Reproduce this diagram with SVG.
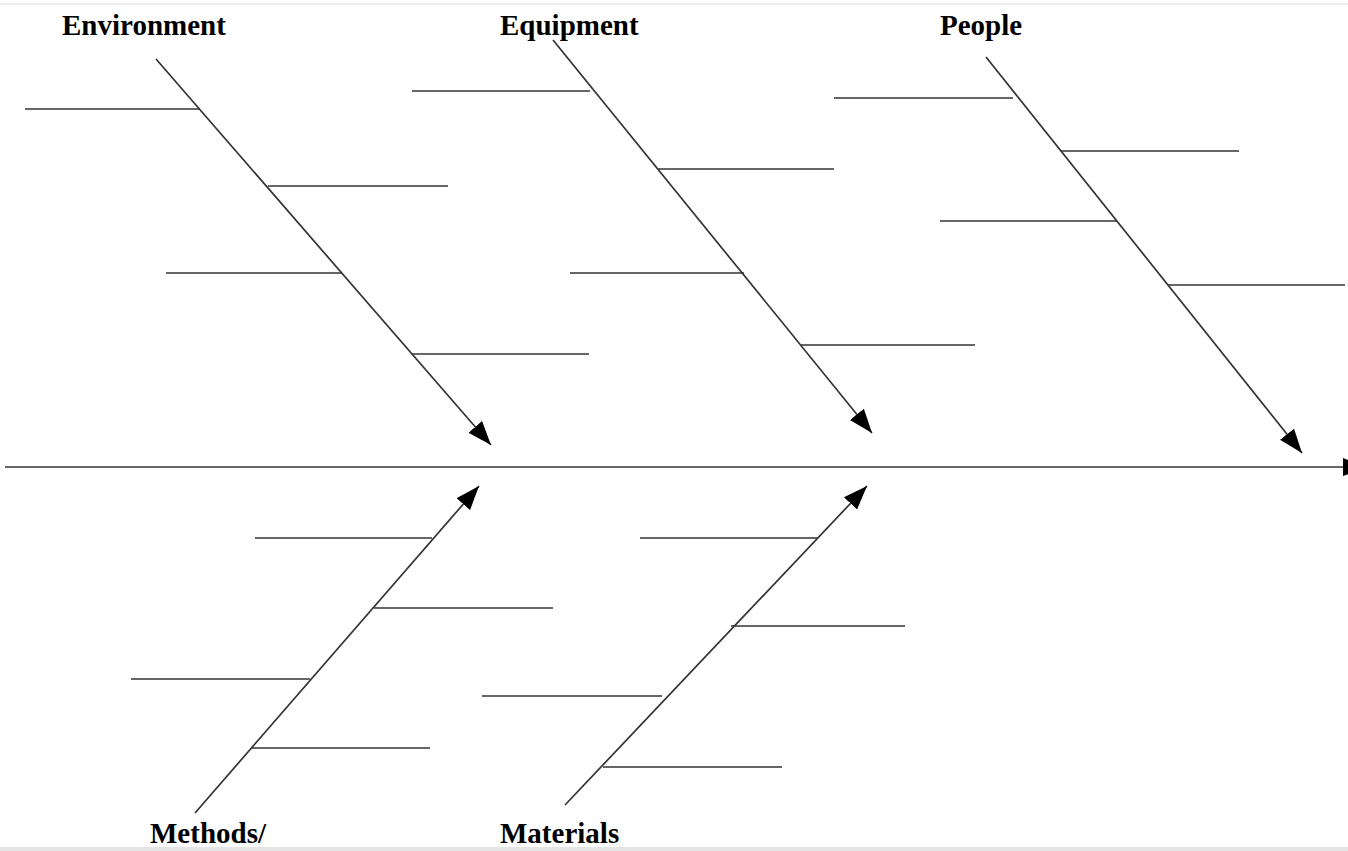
<svg xmlns="http://www.w3.org/2000/svg" width="1348" height="851" viewBox="0 0 1348 851">
<defs>
<marker id="ah" markerUnits="userSpaceOnUse" markerWidth="26" markerHeight="20" refX="24" refY="9" orient="auto" viewBox="0 0 26 18">
<path d="M0,0 L24,9 L0,18 Z" fill="#000"/>
</marker>
<style>
.ln{stroke:#333;stroke-width:1.7;fill:none}
.bone{stroke:#333;stroke-width:1.7;fill:none;marker-end:url(#ah)}
.lbl{font-family:"Liberation Serif","Times New Roman",serif;font-weight:bold;font-size:29px;fill:#000}
</style>
</defs>
<rect width="1348" height="851" fill="#fff"/>
<rect x="0" y="3" width="1348" height="2" fill="#ececec"/>
<rect x="0" y="847" width="1348" height="4" fill="#e4e4e4"/>
<g id="connectors">
<line class="bone" x1="5" y1="467" x2="1367" y2="467"/>
</g>
<g id="environment">
<text class="lbl" x="62" y="35">Environment</text>
<line class="bone" x1="156" y1="59" x2="491" y2="445"/>
<line class="ln" x1="25" y1="109" x2="200" y2="109"/>
<line class="ln" x1="268" y1="186" x2="448" y2="186"/>
<line class="ln" x1="166" y1="273" x2="342" y2="273"/>
<line class="ln" x1="412" y1="354" x2="589" y2="354"/>
</g>
<g id="equipment">
<text class="lbl" x="500" y="35">Equipment</text>
<line class="bone" x1="553" y1="40" x2="872" y2="433"/>
<line class="ln" x1="412" y1="91" x2="590" y2="91"/>
<line class="ln" x1="658" y1="169" x2="834" y2="169"/>
<line class="ln" x1="570" y1="273" x2="744" y2="273"/>
<line class="ln" x1="801" y1="345" x2="975" y2="345"/>
</g>
<g id="people">
<text class="lbl" x="940" y="35">People</text>
<line class="bone" x1="986" y1="57" x2="1302" y2="453"/>
<line class="ln" x1="834" y1="98" x2="1013" y2="98"/>
<line class="ln" x1="1061" y1="151" x2="1239" y2="151"/>
<line class="ln" x1="940" y1="221" x2="1117" y2="221"/>
<line class="ln" x1="1168" y1="285" x2="1345" y2="285"/>
</g>
<g id="methods">
<text class="lbl" x="150" y="843">Methods/</text>
<line class="bone" x1="195" y1="813" x2="479" y2="486"/>
<line class="ln" x1="255" y1="538" x2="432" y2="538"/>
<line class="ln" x1="374" y1="608" x2="553" y2="608"/>
<line class="ln" x1="131" y1="679" x2="310" y2="679"/>
<line class="ln" x1="252" y1="748" x2="430" y2="748"/>
</g>
<g id="materials">
<text class="lbl" x="500" y="843">Materials</text>
<line class="bone" x1="565" y1="805" x2="867" y2="486"/>
<line class="ln" x1="640" y1="538" x2="817" y2="538"/>
<line class="ln" x1="731" y1="626" x2="905" y2="626"/>
<line class="ln" x1="482" y1="696" x2="662" y2="696"/>
<line class="ln" x1="603" y1="767" x2="782" y2="767"/>
</g>
</svg>
